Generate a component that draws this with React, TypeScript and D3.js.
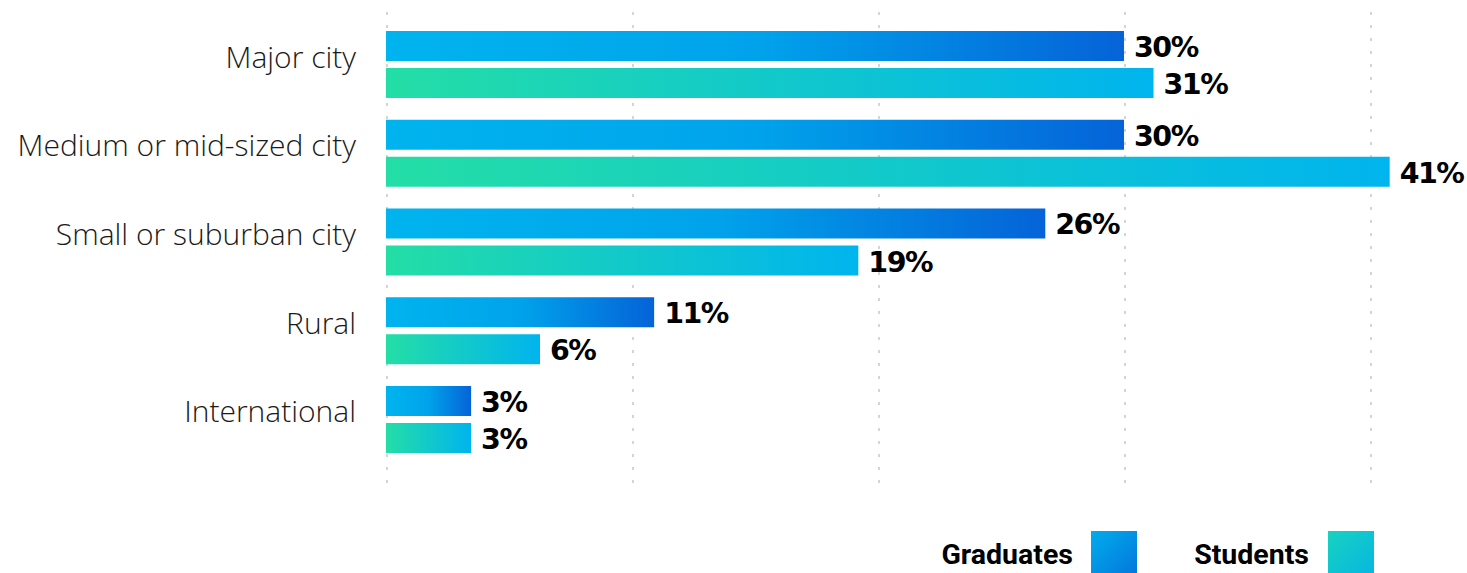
import React from "react";
import * as d3 from "d3";

const categories = ["Major city", "Medium or mid-sized city", "Small or suburban city", "Rural", "International"];
const seriesNames = ["Graduates", "Students"];
const graduates = [30.0, 30.0, 26.8, 10.9, 3.46];
const students = [31.2, 40.8, 19.2, 6.26, 3.46];
const graduatesLabels = ["30%", "30%", "26%", "11%", "3%"];
const studentsLabels = ["31%", "41%", "19%", "6%", "3%"];
const gridTicks = [0, 10, 20, 30, 40];

const W = 1467;
const H = 573;

export default function App() {
  const x = d3.scaleLinear().domain([0, 40]).range([386, 1370]);
  const y = d3.scaleBand<string>().domain(categories).range([31, 453]).paddingInner(0.245).paddingOuter(0);
  const inner = d3.scaleBand<string>().domain(seriesNames).range([0, y.bandwidth()]).paddingInner(7 / 37).paddingOuter(0);
  const values = [graduates, students];
  const labels = [graduatesLabels, studentsLabels];
  const gradIds = ["gGrad", "gStud"];

  return (
    <div style={{ position: "absolute", left: 0, top: 0 }}>
      <svg width={W} height={H} style={{ display: "block" }}>
        <defs>
          <linearGradient id="gGrad" x1="0" x2="1" y1="0" y2="0">
            <stop offset="0" stopColor="#00B4EE" />
            <stop offset="0.5" stopColor="#00A3EB" />
            <stop offset="1" stopColor="#0563D8" />
          </linearGradient>
          <linearGradient id="gStud" x1="0" x2="1" y1="0" y2="0">
            <stop offset="0" stopColor="#24DEA6" />
            <stop offset="1" stopColor="#00B4EE" />
          </linearGradient>
          <linearGradient id="lGrad" x1="0" x2="1" y1="0" y2="1">
            <stop offset="0" stopColor="#00ADEC" />
            <stop offset="1" stopColor="#0575DC" />
          </linearGradient>
          <linearGradient id="lStud" x1="0" x2="1" y1="0" y2="1">
            <stop offset="0" stopColor="#18D2C0" />
            <stop offset="1" stopColor="#06B6E2" />
          </linearGradient>
        </defs>
        {gridTicks.map((t) => (
          <line key={t} x1={x(t) + 1} x2={x(t) + 1} y1={12} y2={486} stroke="#c8c8c8" strokeWidth={1.5} strokeDasharray="3,10" />
        ))}
        {categories.map((c, i) => (
          <g key={c}>
            <text x={356} y={(y(c) as number) + y.bandwidth() / 2 + 3} textAnchor="end" fontFamily="'Open Sans', sans-serif" fontWeight={300} fontSize={30} fill="#1a1a1a">
              {c}
            </text>
            {seriesNames.map((s, si) => {
              const yy = (y(c) as number) + (inner(s) as number);
              const v = values[si][i];
              return (
                <g key={s}>
                  <rect x={x(0)} y={yy} width={x(v) - x(0)} height={inner.bandwidth()} fill={`url(#${gradIds[si]})`} />
                  <text x={x(v) + 10} y={yy + inner.bandwidth() / 2 + 11} fontFamily="'DejaVu Sans', sans-serif" fontWeight={700} fontSize={28.5} fill="#000" letterSpacing={-1.5}>
                    {labels[si][i]}
                  </text>
                </g>
              );
            })}
          </g>
        ))}
        <text x={1073} y={564} textAnchor="end" fontFamily="'Roboto', sans-serif" fontWeight={700} fontSize={28.5} fill="#000">Graduates</text>
        <rect x={1091} y={531} width={46} height={46} fill="url(#lGrad)" />
        <text x={1309} y={564} textAnchor="end" fontFamily="'Roboto', sans-serif" fontWeight={700} fontSize={28.5} fill="#000">Students</text>
        <rect x={1328} y={531} width={46} height={46} fill="url(#lStud)" />
      </svg>
    </div>
  );
}
